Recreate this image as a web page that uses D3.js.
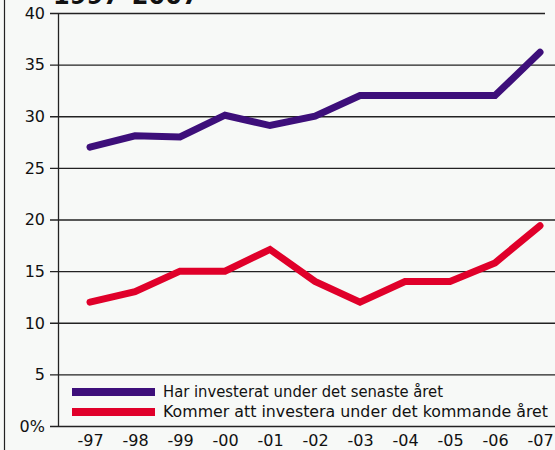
<!DOCTYPE html>
<html><head><meta charset="utf-8">
<script src="https://cdn.jsdelivr.net/npm/d3@7"></script>
<style>body{margin:0;background:#f7f9f7}svg{display:block}text{font-family:"DejaVu Sans",sans-serif;fill:#111}</style>
</head><body><svg id="c" width="555" height="450"></svg>
<script>
const years = ["-97","-98","-99","-00","-01","-02","-03","-04","-05","-06","-07"];
const invested = [27,28.1,28,30.1,29.1,30,32,32,32,32,36.2];
const planned = [12,13,15,15,17.1,14,12,14,14,15.8,19.4];
const yTicks = [0,5,10,15,20,25,30,35,40];
const seriesNames = ["Har investerat under det senaste året","Kommer att investera under det kommande året"];
const colors = ["#3d0f7a","#e0002a"];
const title = "1997–2007";

const svg = d3.select("#c");
svg.append("rect").attr("width",555).attr("height",450).attr("fill","#f7f9f7");
svg.append("line").attr("x1",4.5).attr("x2",4.5).attr("y1",0).attr("y2",450).attr("stroke","#222").attr("stroke-width",1.2);
svg.append("text").attr("x",53).attr("y",4).attr("font-size",24).attr("font-weight","bold").text(title);

const x = d3.scalePoint().domain(years).range([90,540]);
const y = d3.scaleLinear().domain([0,40]).range([426,13]);

svg.append("g").selectAll("line").data(yTicks).join("line")
  .attr("x1",50).attr("x2",d=>d===40?545:555)
  .attr("y1",d=>y(d)+0.5).attr("y2",d=>y(d)+0.5)
  .attr("stroke","#222").attr("stroke-width",1.3);
svg.append("line").attr("x1",58.5).attr("x2",58.5).attr("y1",y(40)).attr("y2",y(0)).attr("stroke","#222").attr("stroke-width",1.3);

svg.append("g").selectAll("text").data(yTicks).join("text")
  .attr("x",45).attr("y",d=>y(d)).attr("dy","0.36em").attr("text-anchor","end")
  .attr("font-size",16).text(d=>d===0?"0%":d);

const xAxis = svg.append("g").attr("transform","translate(0,426)")
  .call(d3.axisBottom(x).tickSize(0).tickPadding(9));
xAxis.select(".domain").remove();
xAxis.selectAll("text").attr("font-size",16).attr("font-family","'DejaVu Sans',sans-serif").attr("fill","#111");

const line = d3.line().x((d,i)=>x(years[i])).y(d=>y(d));
[invested,planned].forEach((s,i)=>{
  svg.append("path").datum(s).attr("d",line).attr("fill","none")
    .attr("stroke",colors[i]).attr("stroke-width",7).attr("stroke-linecap","round").attr("stroke-linejoin","miter");
});

const lg = svg.append("g");
const lens = [280,385];
seriesNames.forEach((n,i)=>{
  const yy = 392 + i*20;
  lg.append("rect").attr("x",72).attr("y",yy-4).attr("width",83).attr("height",8).attr("fill",colors[i]);
  lg.append("text").attr("x",163).attr("y",yy).attr("dy","0.36em").attr("font-size",15)
    .attr("textLength",lens[i]).attr("lengthAdjust","spacingAndGlyphs").text(n);
});
</script></body></html>
